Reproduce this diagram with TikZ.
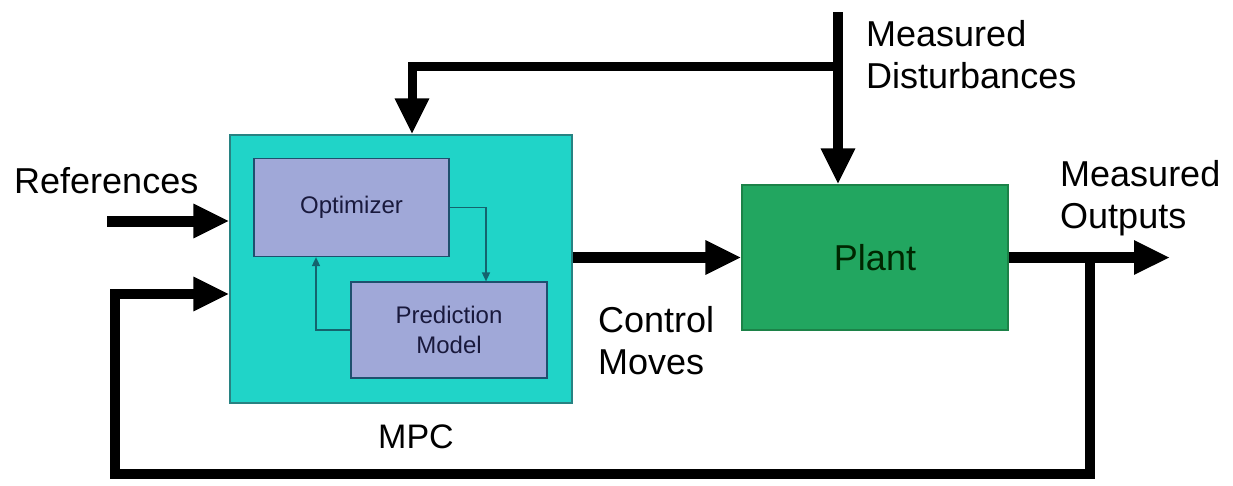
\documentclass[tikz,border=0pt]{standalone}
\usepackage{fontspec}
\setmainfont{Liberation Sans}
\usetikzlibrary{arrows.meta}
\definecolor{mpcfill}{RGB}{32,212,200}
\definecolor{mpcedge}{RGB}{40,130,130}
\definecolor{subfill}{RGB}{160,168,216}
\definecolor{subedge}{RGB}{30,80,110}
\definecolor{subtext}{RGB}{25,25,60}
\definecolor{plantfill}{RGB}{34,166,96}
\definecolor{plantedge}{RGB}{28,130,72}
\definecolor{thin}{RGB}{20,100,110}
\begin{document}
\begin{tikzpicture}[x=1pt,y=-1pt,
  bigtext/.style={font=\fontsize{36}{42}\selectfont, inner sep=0pt, align=left},
  mpcbox/.style={draw=mpcedge, line width=1.2pt, fill=mpcfill, minimum width=342pt, minimum height=268pt, inner sep=0pt},
  subbox/.style={draw=subedge, line width=1.2pt, fill=subfill, text=subtext, font=\fontsize{24}{30}\selectfont, align=center, inner sep=0pt},
  plantbox/.style={draw=plantedge, line width=1.2pt, fill=plantfill, minimum width=266pt, minimum height=145pt, font=\fontsize{36}{42}\selectfont, text=black!85!green},
  signal/.style={line width=11pt, line join=miter, -{Triangle[length=36pt,width=32pt]}},
  inner/.style={draw=thin, line width=1.6pt, -{Triangle[length=9pt,width=8pt]}}
]
\useasboundingbox (0,0) rectangle (1233,485);

% controller with its two internal blocks
\node[mpcbox] (mpc) at (401,269) {};
\node[subbox, minimum width=195pt, minimum height=98pt] (opt) at (351.5,207.5) {Optimizer};
\node[subbox, minimum width=196pt, minimum height=96pt] (pm) at (449,330) {Prediction\\Model};
\draw[inner] (opt.east) -| ([xshift=37pt]pm.north);
\draw[inner] (pm.west) -| ([xshift=-35.5pt]opt.south);

% plant
\node[plantbox] (plant) at (875,257.5) {Plant};

% free ends and junctions
\coordinate (ref) at (107,221);
\coordinate (dtop) at (838,12);
\coordinate (dj) at (838,66);
\coordinate (out) at (1170,257.5);
\coordinate (tap) at (1090,257.5);
\coordinate (fbl) at (115,474);

% signals
\draw[signal] (ref) -- (mpc.west |- ref);
\draw[signal] (mpc.east |- plant.west) -- (plant.west);
\draw[signal] (plant.east) -- (out);
\draw[signal, line width=10pt] (dtop) -- (dtop |- plant.north);
\draw[signal, line width=9pt] (dj) -| ([xshift=11pt]mpc.north);
\draw[signal, line width=10pt] (tap) |- (fbl) |- (mpc.west |- 0,294);

% labels
\node[bigtext, anchor=north west] (lref) at (14,167) {References};
\node[bigtext, anchor=north west] (ldist) at (866,20) {Measured\\Disturbances};
\node[bigtext, anchor=north west] (lout) at (1060,160) {Measured\\Outputs};
\node[bigtext, anchor=north west] (lcm) at (598,306) {Control\\Moves};
\node[font=\fontsize{34}{40}\selectfont, inner sep=0pt] (lmpc) at (416,437) {MPC};
\end{tikzpicture}
\end{document}
